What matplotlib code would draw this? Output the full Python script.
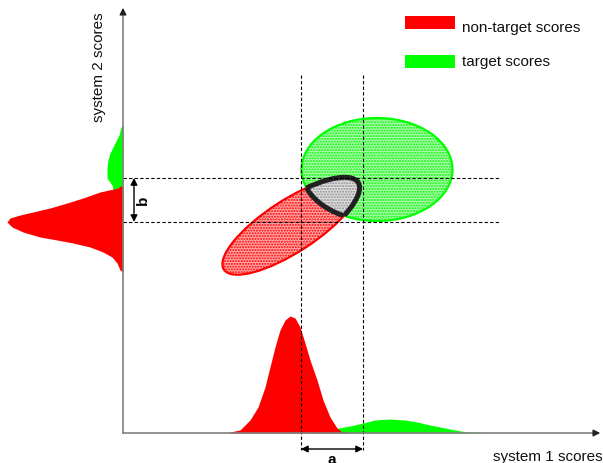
import matplotlib.pyplot as plt
from matplotlib.patches import Ellipse, Rectangle

plt.rcParams['font.family'] = ['Liberation Sans', 'DejaVu Sans']
plt.rcParams['hatch.linewidth'] = 1.0

# score densities (pixel units, origin at axes corner)
# system 1 (bottom), position along x and height above the axis
s1_nontarget_x = [228, 230, 240, 250, 258, 265, 270, 275, 280, 285, 290, 295, 300,
                  305, 310, 317, 323, 330, 337, 342, 350]
s1_nontarget_h = [0, 1, 3, 13, 26, 46, 66, 86, 103, 113, 117, 115, 106,
                  90, 73, 53, 33, 16, 5, 1, 0]
s1_target_x = [310, 333, 350, 363, 375, 390, 405, 417, 430, 440, 455, 467, 487]
s1_target_h = [0, 4, 7, 10, 13, 14, 13, 11, 8, 6, 3, 1, 0]

# system 2 (left), position along y and width left of the axis
s2_nontarget_y = [186, 188, 192, 198, 203, 208, 212, 215, 218, 222, 227, 232, 237,
                  240, 243, 247, 252, 257, 263, 270, 272]
s2_nontarget_w = [3, 5, 23, 40, 56, 73, 90, 103, 113, 116, 111, 100, 83,
                  66, 50, 33, 20, 11, 6, 3, 0]
s2_target_y = [124, 127, 135, 143, 153, 160, 167, 178, 185, 197, 210, 220, 224]
s2_target_w = [0, 2, 4, 8, 13, 15, 16, 16, 11, 8, 5, 1, 0]

# joint score regions: centre x, centre y, width, height, angle
nontarget_ellipse = (291, 226, 160, 52, -33)
target_ellipse = (377, 169.5, 151, 103, 0)

# thresholds
thr_x = [301, 363]
thr_y = [178, 222]

ox, oy = 123, 433
RED = '#ff0000'
GREEN = '#00ff00'

fig = plt.figure(figsize=(6.03, 4.63), dpi=100)
ax = fig.add_axes([0, 0, 1, 1])
ax.set_xlim(0, 603)
ax.set_ylim(463, 0)
ax.axis('off')

# marginal distributions
ax.fill_between(s1_target_x, oy, [oy - h for h in s1_target_h], color=GREEN, lw=0)
ax.fill_between(s1_nontarget_x, oy, [oy - h for h in s1_nontarget_h], color=RED, lw=0)
ax.fill_betweenx(s2_target_y, ox, [ox - w for w in s2_target_w], color=GREEN, lw=0)
ax.fill_betweenx(s2_nontarget_y, ox, [ox - w for w in s2_nontarget_w], color=RED, lw=0)


def ell(p, **kw):
    return Ellipse((p[0], p[1]), p[2], p[3], angle=p[4], transform=ax.transData, **kw)


# filled regions with dotted texture
ax.add_patch(ell(target_ellipse, facecolor='#b0f6b0', edgecolor=GREEN, hatch='......', lw=0))
ax.add_patch(ell(nontarget_ellipse, facecolor='#ffa8a8', edgecolor=RED, hatch='......', lw=0))
ax.add_patch(ell(target_ellipse, fill=False, edgecolor=GREEN, lw=1.6))
ax.add_patch(ell(nontarget_ellipse, fill=False, edgecolor=RED, lw=1.6))

# overlap
clip_t = ell(target_ellipse, fill=False, lw=0)
clip_n = ell(nontarget_ellipse, fill=False, lw=0)
ax.add_patch(clip_t)
ax.add_patch(clip_n)
ov = ell(nontarget_ellipse, facecolor='#e2e2e2', edgecolor='#8a8a8a', hatch='......', lw=0)
ax.add_patch(ov)
ov.set_clip_path(clip_t)
o1 = ell(nontarget_ellipse, fill=False, edgecolor='#222222', lw=3.6)
ax.add_patch(o1)
o1.set_clip_path(clip_t)
o2 = ell(target_ellipse, fill=False, edgecolor='#222222', lw=3.6)
ax.add_patch(o2)
o2.set_clip_path(clip_n)

# threshold lines
for x in thr_x:
    ax.plot([x, x], [75, 450], color='black', lw=0.8, ls=(0, (3, 2)))
for y in thr_y:
    ax.plot([ox, 500], [y, y], color='black', lw=0.8, ls=(0, (3, 2)))

# axes with arrows
ax.plot([ox, ox], [oy, 12], color='#808080', lw=1.2)
ax.plot([ox, 598], [oy, oy], color='#808080', lw=1.2)
ax.annotate('', xy=(ox, 5), xytext=(ox, 15),
            arrowprops=dict(arrowstyle='-|>', color='#222222', lw=1, mutation_scale=10))
ax.annotate('', xy=(603, oy), xytext=(593, oy),
            arrowprops=dict(arrowstyle='-|>', color='#222222', lw=1, mutation_scale=10))

# a and b arrows
ax.annotate('', xy=(thr_x[0], 449), xytext=(thr_x[1], 449),
            arrowprops=dict(arrowstyle='<|-|>', color='black', lw=1, mutation_scale=10,
                            shrinkA=0, shrinkB=0))
ax.annotate('', xy=(134, thr_y[0]), xytext=(134, thr_y[1]),
            arrowprops=dict(arrowstyle='<|-|>', color='black', lw=1, mutation_scale=10,
                            shrinkA=0, shrinkB=0))
ax.text((thr_x[0] + thr_x[1]) / 2, 460, 'a', fontsize=11, fontweight='bold',
        ha='center', va='center')
ax.text(143, (thr_y[0] + thr_y[1]) / 2, 'b', fontsize=11, fontweight='bold',
        rotation=90, ha='center', va='center')

# labels
ax.text(603, 457, 'system 1 scores', fontsize=11, ha='right', va='center', color='#111111')
ax.text(99, 67, 'system 2 scores', fontsize=11, rotation=90, ha='center', va='center',
        color='#111111')

# legend
ax.add_patch(Rectangle((405, 16), 50, 13, facecolor=RED, edgecolor='none'))
ax.add_patch(Rectangle((405, 55), 50, 13, facecolor=GREEN, edgecolor='none'))
ax.text(462, 28, 'non-target scores', fontsize=11, va='center', color='#111111')
ax.text(462, 62, 'target scores', fontsize=11, va='center', color='#111111')

fig.savefig('out.png', dpi=100)
